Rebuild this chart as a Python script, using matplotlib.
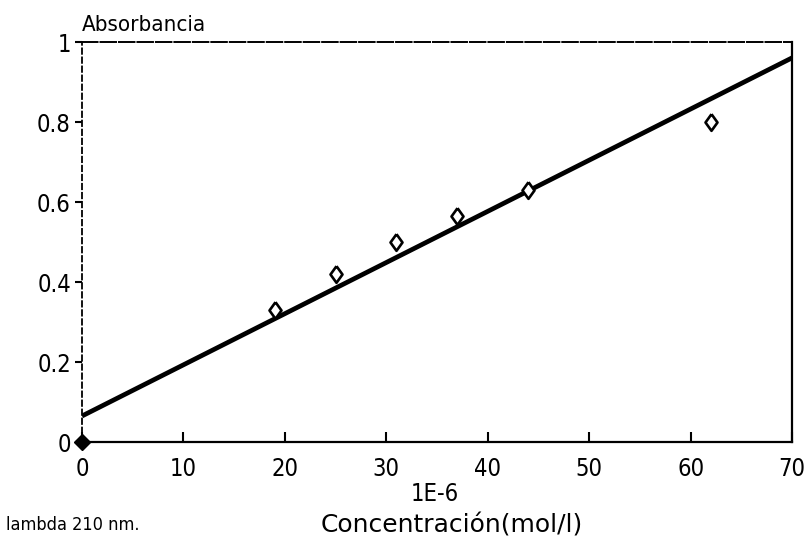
import matplotlib
matplotlib.use("Agg")
import matplotlib.pyplot as plt
import numpy as np

# Calibration data: concentration (x 1E-6 mol/l) vs absorbance at 210 nm
conc = [19, 25, 31, 37, 44, 62]
absorb = [0.33, 0.42, 0.50, 0.565, 0.63, 0.80]
origin_x = [0]
origin_y = [0]
# Fitted calibration line
fit_intercept = 0.065
fit_slope = 0.01279
x_ticks = [0, 10, 20, 30, 40, 50, 60, 70]
y_ticks = [0, 0.2, 0.4, 0.6, 0.8, 1]
y_ticklabels = ["0", "0.2", "0.4", "0.6", "0.8", "1"]

plt.rcParams["font.family"] = ["DejaVu Sans"]
plt.rcParams["font.stretch"] = "condensed"

# slightly narrow diamond marker
diamond = [(0, 1), (0.72, 0), (0, -1), (-0.72, 0), (0, 1)]

W, H = 806, 538
fig = plt.figure(figsize=(W / 100, H / 100), dpi=100)
ax = fig.add_axes([82 / W, 1 - 442 / H, 710 / W, 400 / H])

xl = np.array([0, 70])
ax.plot(xl, fit_intercept + fit_slope * xl, color="black", lw=3.4, solid_capstyle="butt")
ax.plot(conc, absorb, linestyle="none", marker=diamond, markersize=12,
        markerfacecolor="white", markeredgecolor="black", markeredgewidth=1.9)
ax.plot(origin_x, origin_y, linestyle="none", marker="D", markersize=8,
        color="black", clip_on=False, zorder=5)

ax.set_xlim(0, 70)
ax.set_ylim(0, 1)
ax.set_xticks(x_ticks)
ax.set_xticklabels([str(t) for t in x_ticks])
ax.set_yticks(y_ticks)
ax.set_yticklabels(y_ticklabels)

ax.tick_params(axis="x", direction="in", length=7, width=1.5, labelsize=17, pad=11)
ax.tick_params(axis="y", direction="out", length=5, width=1.5, labelsize=17, pad=3)

for side in ["bottom", "right"]:
    ax.spines[side].set_linewidth(1.6)
ax.spines["top"].set_linewidth(1.4)
ax.spines["top"].set_linestyle((0, (8, 1.5)))
ax.spines["left"].set_linewidth(1.3)
ax.spines["left"].set_linestyle((0, (3, 2)))

fig.text(82 / W, 1 - 31 / H, "Absorbancia", fontsize=16, ha="left", va="baseline")
fig.text(435 / W, 1 - 494 / H, "1E-6", fontsize=17, ha="center", va="center")
fig.text(452 / W, 1 - 525 / H, "Concentración(mol/l)", fontsize=18,
         fontstretch="normal", ha="center", va="center")
fig.text(6 / W, 1 - 525 / H, "lambda 210 nm.", fontsize=13, ha="left", va="center")

fig.savefig("out.png", dpi=100)
